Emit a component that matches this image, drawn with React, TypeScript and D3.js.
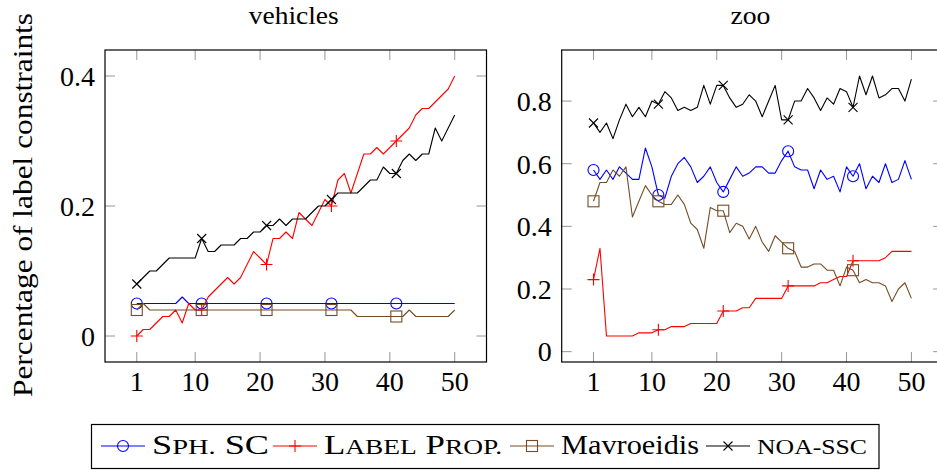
import React from 'react';
import * as d3 from 'd3';

// x positions are the run index 1..50
const runs = d3.range(1, 51);
const xTicks = [1, 10, 20, 30, 40, 50];
const yTicksVehicles = [0, 0.2, 0.4];
const yTicksZoo = [0, 0.2, 0.4, 0.6, 0.8];

const sphVehicles = [
  0.05, 0.05, 0.05, 0.05, 0.05, 0.05, 0.05, 0.06, 0.05, 0.05,
  0.05, 0.05, 0.05, 0.05, 0.05, 0.05, 0.05, 0.05, 0.05, 0.05,
  0.05, 0.05, 0.05, 0.05, 0.05, 0.05, 0.05, 0.05, 0.05, 0.05,
  0.05, 0.05, 0.05, 0.05, 0.05, 0.05, 0.05, 0.05, 0.05, 0.05,
  0.05, 0.05, 0.05, 0.05, 0.05, 0.05, 0.05, 0.05, 0.05, 0.05,
];
const labelPropVehicles = [
  0.0, 0.01, 0.01, 0.02, 0.03, 0.03, 0.04, 0.02, 0.05, 0.04,
  0.04, 0.06, 0.07, 0.08, 0.09, 0.08, 0.09, 0.11, 0.13, 0.12,
  0.11, 0.15, 0.15, 0.16, 0.15, 0.19, 0.18, 0.17, 0.19, 0.21,
  0.2, 0.24, 0.25, 0.22, 0.25, 0.28, 0.28, 0.29, 0.28, 0.29,
  0.3, 0.31, 0.32, 0.34, 0.35, 0.35, 0.36, 0.37, 0.38, 0.4,
];
const mavroeidisVehicles = [
  0.04, 0.05, 0.04, 0.04, 0.04, 0.04, 0.04, 0.04, 0.04, 0.04,
  0.04, 0.04, 0.04, 0.04, 0.04, 0.04, 0.04, 0.04, 0.04, 0.04,
  0.04, 0.04, 0.04, 0.04, 0.04, 0.04, 0.04, 0.04, 0.04, 0.04,
  0.04, 0.04, 0.04, 0.04, 0.03, 0.03, 0.03, 0.03, 0.03, 0.03,
  0.03, 0.03, 0.04, 0.03, 0.03, 0.03, 0.03, 0.03, 0.03, 0.04,
];
const noaVehicles = [
  0.08, 0.09, 0.1, 0.1, 0.11, 0.12, 0.12, 0.12, 0.12, 0.12,
  0.15, 0.13, 0.13, 0.14, 0.14, 0.14, 0.15, 0.15, 0.16, 0.16,
  0.17, 0.17, 0.18, 0.17, 0.18, 0.18, 0.18, 0.19, 0.2, 0.2,
  0.21, 0.22, 0.22, 0.22, 0.22, 0.23, 0.24, 0.24, 0.26, 0.25,
  0.25, 0.27, 0.28, 0.27, 0.28, 0.28, 0.32, 0.3, 0.32, 0.34,
];

const sphZoo = [
  0.58, 0.55, 0.58, 0.55, 0.59, 0.57, 0.55, 0.55, 0.65, 0.59,
  0.5, 0.49, 0.56, 0.6, 0.62, 0.59, 0.54, 0.56, 0.59, 0.54,
  0.51, 0.55, 0.59, 0.56, 0.57, 0.59, 0.59, 0.57, 0.57, 0.61,
  0.64, 0.59, 0.58, 0.58, 0.52, 0.58, 0.55, 0.56, 0.51, 0.59,
  0.56, 0.6, 0.52, 0.56, 0.54, 0.6, 0.54, 0.55, 0.61, 0.55,
];
const labelPropZoo = [
  0.23, 0.33, 0.05, 0.05, 0.05, 0.05, 0.05, 0.06, 0.06, 0.06,
  0.07, 0.07, 0.08, 0.08, 0.08, 0.09, 0.09, 0.09, 0.09, 0.09,
  0.13, 0.13, 0.13, 0.14, 0.14, 0.17, 0.17, 0.17, 0.17, 0.17,
  0.21, 0.21, 0.21, 0.21, 0.21, 0.22, 0.22, 0.23, 0.24, 0.24,
  0.29, 0.29, 0.29, 0.29, 0.29, 0.3, 0.32, 0.32, 0.32, 0.32,
];
const mavroeidisZoo = [
  0.48, 0.54, 0.54, 0.58, 0.56, 0.59, 0.43, 0.48, 0.53, 0.5,
  0.48, 0.47, 0.47, 0.5, 0.47, 0.41, 0.39, 0.33, 0.46, 0.45,
  0.45, 0.38, 0.41, 0.4, 0.36, 0.4, 0.35, 0.32, 0.37, 0.35,
  0.33, 0.32, 0.27, 0.27, 0.28, 0.28, 0.26, 0.26, 0.21, 0.27,
  0.26, 0.22, 0.23, 0.22, 0.22, 0.21, 0.16, 0.2, 0.22, 0.17,
];
const noaZoo = [
  0.73, 0.7, 0.73, 0.68, 0.74, 0.79, 0.75, 0.78, 0.75, 0.8,
  0.79, 0.83, 0.81, 0.77, 0.78, 0.77, 0.78, 0.85, 0.79, 0.85,
  0.85, 0.81, 0.78, 0.79, 0.82, 0.8, 0.75, 0.8, 0.85, 0.74,
  0.74, 0.8, 0.8, 0.84, 0.81, 0.77, 0.81, 0.79, 0.84, 0.83,
  0.78, 0.88, 0.82, 0.88, 0.81, 0.82, 0.84, 0.84, 0.8, 0.87,
];

const seriesStyle = [
  { key: 'sph', color: '#0000ff', marker: 'circle' },
  { key: 'lp', color: '#ff0000', marker: 'plus' },
  { key: 'mav', color: '#734d26', marker: 'square' },
  { key: 'noa', color: '#000000', marker: 'cross' },
];

const FONT = "'Liberation Serif', serif";
const FS = 28;
const TICK = 10;
const txt = { fontFamily: FONT };

const Marker = ({ type, x, y, color }) => {
  if (type === 'circle') return <circle cx={x} cy={y} r={5.5} fill="none" stroke={color} strokeWidth={1.1} />;
  if (type === 'square') return <rect x={x - 5.5} y={y - 5.5} width={11} height={11} fill="none" stroke={color} strokeWidth={1.1} />;
  if (type === 'plus') return <path d={`M${x - 6},${y}H${x + 6}M${x},${y - 6}V${y + 6}`} stroke={color} strokeWidth={1.1} />;
  return <path d={`M${x - 4.5},${y - 4.5}L${x + 4.5},${y + 4.5}M${x - 4.5},${y + 4.5}L${x + 4.5},${y - 4.5}`} stroke={color} strokeWidth={1.1} />;
};

const Panel = ({ title, titleLen, left, right, top, bottom, yDomain, yTicks, data }) => {
  const x = d3.scaleLinear().domain([-3.9, 54.9]).range([left, right]);
  const y = d3.scaleLinear().domain(yDomain).range([bottom, top]);
  const line = d3.line<number>().x((d, i) => x(runs[i])).y((d) => y(d));

  return (
    <g>
      <text x={(left + right) / 2 - 2} y={24} textAnchor="middle" style={txt} fontSize={26}
        textLength={titleLen} lengthAdjust="spacingAndGlyphs">{title}</text>
      {xTicks.map((t) => (
        <g key={'x' + t}>
          <line x1={x(t)} x2={x(t)} y1={bottom} y2={bottom - TICK} stroke="#8a8a8a" strokeWidth={0.9} />
          <line x1={x(t)} x2={x(t)} y1={top} y2={top + TICK} stroke="#8a8a8a" strokeWidth={0.9} />
          <text x={x(t)} y={bottom + 29} textAnchor="middle" style={txt} fontSize={FS}>{t}</text>
        </g>
      ))}
      {yTicks.map((t) => (
        <g key={'y' + t}>
          <line x1={left} x2={left + TICK} y1={y(t)} y2={y(t)} stroke="#8a8a8a" strokeWidth={0.9} />
          <line x1={right} x2={right - TICK} y1={y(t)} y2={y(t)} stroke="#8a8a8a" strokeWidth={0.9} />
          <text x={left - 10} y={y(t)} dy="0.35em" textAnchor="end" style={txt} fontSize={FS}>{String(t)}</text>
        </g>
      ))}
      {data.map((vals, si) => (
        <g key={seriesStyle[si].key}>
          <path d={line(vals)} fill="none" stroke={seriesStyle[si].color} strokeWidth={1.1} strokeLinejoin="round" />
          {vals.map((v, i) => (i % 10 === 0 ? (
            <Marker key={i} type={seriesStyle[si].marker} x={x(runs[i])} y={y(v)} color={seriesStyle[si].color} />
          ) : null))}
        </g>
      ))}
      <rect x={left} y={top} width={right - left} height={bottom - top} fill="none" stroke="#000" strokeWidth={1.2} />
    </g>
  );
};

// kind 0 = small caps, 1 = capital, 2 = plain
const legendItems = [
  { style: 0, x: 101, len: 117, parts: [['S', 1], ['ph.', 0], [' SC', 1]] },
  { style: 1, x: 273, len: 178, parts: [['L', 1], ['abel', 0], [' P', 1], ['rop.', 0]] },
  { style: 2, x: 510, len: 138, parts: [['Mavroeidis', 2]] },
  { style: 3, x: 706, len: 110, parts: [['noa-ssc', 0]] },
];

const Legend = () => {
  const yMid = 446;
  return (
    <g>
      <rect x={91.5} y={424.5} width={787.5} height={44} fill="#fff" stroke="#000" strokeWidth={1.2} />
      {legendItems.map((it) => {
        const s = seriesStyle[it.style];
        return (
          <g key={s.key}>
            <line x1={it.x} x2={it.x + 44} y1={yMid} y2={yMid} stroke={s.color} strokeWidth={1.1} />
            <Marker type={s.marker} x={it.x + 22} y={yMid} color={s.color} />
            <text x={it.x + 51} y={454} style={txt} fontSize={FS} textLength={it.len} lengthAdjust="spacingAndGlyphs">
              {it.parts.map(([t, kind], k) => (
                <tspan key={k} fontSize={kind === 0 ? 22 : FS}>{kind === 0 ? t.toUpperCase() : t}</tspan>
              ))}
            </text>
          </g>
        );
      })}
    </g>
  );
};

export default function App() {
  return (
    <svg width={937} height={470} style={{ position: 'absolute', left: 0, top: 0, background: '#fff' }}>
      <text transform="translate(32,205) rotate(-90)" textAnchor="middle" style={txt} fontSize={FS}
        textLength={384} lengthAdjust="spacingAndGlyphs">
        Percentage of label constraints
      </text>
      <Panel
        title="vehicles"
        titleLen={90}
        left={105}
        right={486.5}
        top={50}
        bottom={362}
        yDomain={[-0.04, 0.44]}
        yTicks={yTicksVehicles}
        data={[sphVehicles, labelPropVehicles, mavroeidisVehicles, noaVehicles]}
      />
      <Panel
        title="zoo"
        titleLen={40}
        left={561.7}
        right={943.2}
        top={50}
        bottom={362}
        yDomain={[-0.033, 0.963]}
        yTicks={yTicksZoo}
        data={[sphZoo, labelPropZoo, mavroeidisZoo, noaZoo]}
      />
      <Legend />
    </svg>
  );
}
